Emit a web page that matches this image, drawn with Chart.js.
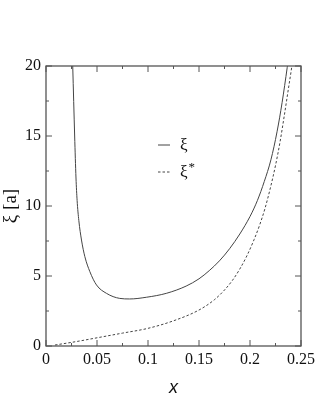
<!DOCTYPE html>
<html><head><meta charset="utf-8">
<script src="https://cdn.jsdelivr.net/npm/chart.js@4/dist/chart.umd.min.js"></script>
<style>html,body{margin:0;padding:0;background:#fff}#wrap{width:319px;height:399px}</style>
</head><body><div id="wrap"><canvas id="c" width="319" height="399"></canvas></div>
<script>
const xiX = [0.0262, 0.0281, 0.0294, 0.0305, 0.0322, 0.0348, 0.0381, 0.0430, 0.0495, 0.0593, 0.0723, 0.082, 0.0983, 0.1179, 0.1374, 0.150, 0.160, 0.170, 0.180, 0.190, 0.200, 0.2073, 0.214, 0.2205, 0.2265, 0.2315, 0.2365, 0.2405];
const xiY = [20, 15, 12, 10.4, 8.95, 7.57, 6.38, 5.31, 4.36, 3.76, 3.4, 3.36, 3.48, 3.76, 4.28, 4.8, 5.38, 6.08, 6.95, 8.0, 9.25, 10.4, 11.75, 13.3, 15.3, 17.4, 19.9, 22];
const xsX = [0.0088, 0.03, 0.0511, 0.075, 0.0999, 0.125, 0.150, 0.165, 0.175, 0.183, 0.190, 0.197, 0.204, 0.2095, 0.2148, 0.220, 0.2253, 0.2295, 0.2335, 0.2375, 0.2415, 0.245];
const xsY = [0.07, 0.32, 0.6, 0.92, 1.26, 1.8, 2.57, 3.3, 4.0, 4.71, 5.5, 6.45, 7.6, 8.65, 9.85, 11.3, 13.0, 14.6, 16.4, 18.3, 20.2, 22];
const xTicks = [0, 0.05, 0.1, 0.15, 0.2, 0.25];
const yTicks = [0, 5, 10, 15, 20];
const labels = ['ξ', 'ξ*'];

const toPts = (xs, ys) => xs.map((x, i) => ({x, y: ys[i]}));
const axisColor = '#555';
const lineColor = '#444';
const serif = "'Liberation Serif', 'Times New Roman', serif";
Chart.defaults.font.family = serif;

const framePlugin = {
  id: 'frame',
  afterDraw(chart) {
    const {ctx, chartArea: a, scales} = chart;
    const xs = scales.x, ys = scales.y;
    ctx.save();
    ctx.strokeStyle = axisColor;
    ctx.lineWidth = 1.3;
    ctx.strokeRect(a.left, a.top, a.right - a.left, a.bottom - a.top);
    ctx.lineWidth = 1;
    for (let i = 0; i < xTicks.length; i++) {
      const px = xs.getPixelForValue(xTicks[i]);
      ctx.beginPath();
      ctx.moveTo(px, a.bottom); ctx.lineTo(px, a.bottom - 6);
      ctx.moveTo(px, a.top); ctx.lineTo(px, a.top + 6);
      ctx.stroke();
      if (i < xTicks.length - 1) {
        const mx = xs.getPixelForValue((xTicks[i] + xTicks[i + 1]) / 2);
        ctx.beginPath();
        ctx.moveTo(mx, a.bottom); ctx.lineTo(mx, a.bottom - 3);
        ctx.moveTo(mx, a.top); ctx.lineTo(mx, a.top + 3);
        ctx.stroke();
      }
    }
    for (let i = 0; i < yTicks.length; i++) {
      const py = ys.getPixelForValue(yTicks[i]);
      ctx.beginPath();
      ctx.moveTo(a.left, py); ctx.lineTo(a.left + 6, py);
      ctx.moveTo(a.right, py); ctx.lineTo(a.right - 6, py);
      ctx.stroke();
      if (i < yTicks.length - 1) {
        const my = ys.getPixelForValue((yTicks[i] + yTicks[i + 1]) / 2);
        ctx.beginPath();
        ctx.moveTo(a.left, my); ctx.lineTo(a.left + 3, my);
        ctx.moveTo(a.right, my); ctx.lineTo(a.right - 3, my);
        ctx.stroke();
      }
    }
    const ly = [145, 172];
    chart.data.datasets.forEach((ds, i) => {
      ctx.strokeStyle = ds.borderColor;
      ctx.lineWidth = 1;
      ctx.setLineDash(ds.borderDash || []);
      ctx.beginPath();
      ctx.moveTo(158, ly[i]); ctx.lineTo(170, ly[i]);
      ctx.stroke();
      ctx.setLineDash([]);
      ctx.fillStyle = '#111';
      ctx.font = '17px ' + serif;
      ctx.textBaseline = 'middle';
      ctx.textAlign = 'left';
      const base = ds.label.replace('*', '');
      ctx.fillText(base, 180, ly[i] + 1);
      if (ds.label.includes('*')) {
        const w = ctx.measureText(base).width;
        ctx.font = '13px ' + serif;
        ctx.fillText('*', 180 + w + 1, ly[i] - 4);
      }
    });
    ctx.restore();
  }
};

new Chart(document.getElementById('c'), {
  type: 'line',
  data: {
    datasets: [
      {label: labels[0], data: toPts(xiX, xiY), borderColor: lineColor, borderWidth: 1, pointRadius: 0, cubicInterpolationMode: 'monotone', fill: false},
      {label: labels[1], data: toPts(xsX, xsY), borderColor: lineColor, borderWidth: 1, borderDash: [2.5, 2], pointRadius: 0, cubicInterpolationMode: 'monotone', fill: false}
    ]
  },
  options: {
    responsive: false,
    animation: false,
    layout: {padding: {top: 66, right: 17, left: 0, bottom: 0}},
    plugins: {legend: {display: false}, tooltip: {enabled: false}},
    scales: {
      x: {
        type: 'linear', min: 0, max: 0.25,
        afterBuildTicks: s => { s.ticks = xTicks.map(v => ({value: v})); },
        afterFit: s => { s.height = 53; },
        grid: {display: false, drawTicks: false},
        border: {display: false},
        ticks: {color: '#111', font: {family: serif, size: 16}, padding: 4, maxRotation: 0,
          callback: v => String(v)},
        title: {display: true, text: 'x', color: '#111', font: {family: "'Liberation Sans', Arial, sans-serif", size: 18, style: 'italic'}, padding: {top: -2, bottom: 0}}
      },
      y: {
        type: 'linear', min: 0, max: 20,
        afterBuildTicks: s => { s.ticks = yTicks.map(v => ({value: v})); },
        afterFit: s => { s.width = 46; },
        grid: {display: false, drawTicks: false},
        border: {display: false},
        ticks: {color: '#111', font: {family: serif, size: 16}, padding: 5},
        title: {display: true, text: 'ξ [a]', color: '#111', font: {family: serif, size: 19}, padding: {top: 0, bottom: 0}}
      }
    }
  },
  plugins: [framePlugin]
});
</script>
</body></html>
